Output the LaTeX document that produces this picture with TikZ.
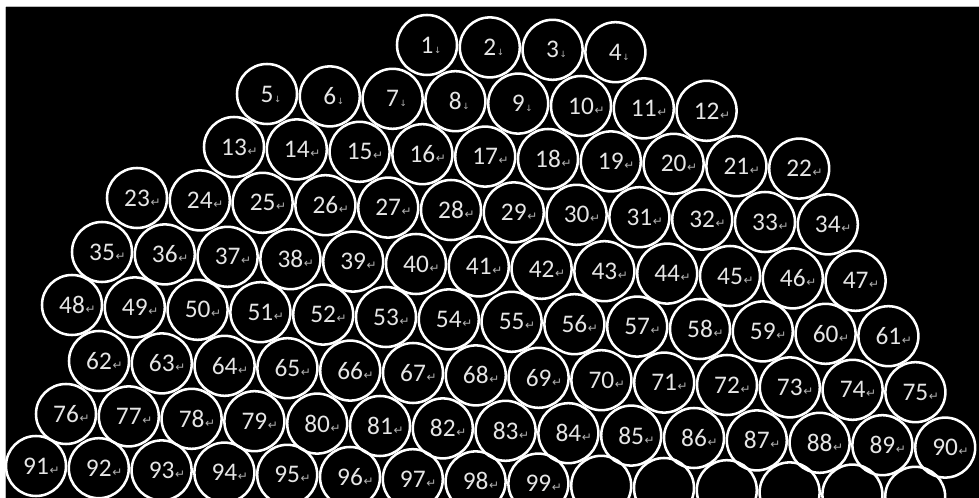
\documentclass[tikz,border=0pt]{standalone}
\usepackage{fontspec}
\setmainfont{Carlito}
\newfontfamily\symf{DejaVu Sans}
\definecolor{lbl}{HTML}{E6E6E6}
\definecolor{mk}{HTML}{B0B0B0}
\newcommand\retm{\rlap{\kern0.5pt\textcolor{mk}{\symf\fontsize{9}{10}\selectfont ↵}}}
\newcommand\downm{\rlap{\kern0.5pt\textcolor{mk}{\symf\fontsize{6.5}{7}\selectfont ↓}}}
\begin{document}
\begin{tikzpicture}[x=0.75pt,y=-0.75pt,
  cell/.style={circle, draw=white, line width=1.9pt, minimum size=45pt, inner sep=0pt,
    text=lbl, font=\fontsize{19}{22}\selectfont}]
\useasboundingbox (0,0) rectangle (979,498);
\clip (0,0) rectangle (979,498);
\fill[white] (0,0) rectangle (979,498);
\fill[black] (6,7) rectangle (979,498);
\draw[gray!55, line width=0.6pt] (6,6.6) -- (979,6.6);
\draw[gray!55, line width=0.6pt] (5.6,7) -- (5.6,498);
\foreach \s/\c/\xo/\yo/\dy in {1/4/427/45/2.4, 5/8/267/94/2.4, 13/10/234/147/2.4, 23/12/137/198/2.4,
    35/13/102/252/2.4, 48/14/72/305/2.4, 62/14/99/361/2.4, 76/15/66/414/2.4, 91/15/36/466/2.2} {
  \pgfmathtruncatemacro\last{\c-1}
  \foreach \k in {0,...,\last} {
    \pgfmathtruncatemacro\n{\s+\k}
    \pgfmathsetmacro\xx{\xo+62.8*\k}
    \pgfmathsetmacro\yy{\yo+\dy*\k}
    \ifnum\n<10 \def\lab{\n\downm}\else\ifnum\n<100 \def\lab{\n\retm}\else\def\lab{}\fi\fi
    \node[cell] (c\n) at (\xx,\yy) {\lab};
  }
}
\end{tikzpicture}
\end{document}
